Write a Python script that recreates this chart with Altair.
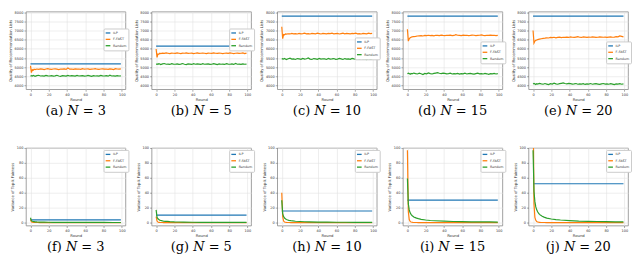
import altair as alt
import pandas as pd

METHODS = ["ILP", "F-FAST", "Random"]
COLORS = ["#1f77b4", "#ff7f0e", "#2ca02c"]

# ---------------- top row: Quality of Recommendation Lists ----------------
R_TOP = [0, 1, 2, 3, 4, 5, 7, 9, 11, 13, 15, 17, 19, 21, 23, 25, 27, 29, 31, 33,
         35, 37, 39, 41, 43, 45, 47, 49, 51, 53, 55, 57, 59, 61, 63, 65, 67, 69,
         71, 73, 75, 77, 79, 81, 83, 85, 87, 89, 91, 93, 95, 97, 99]
ILP_ROUNDS = [0, 99]

TOP_N = [3, 5, 10, 15, 20]
TOP_LABELS = ["(a)", "(b)", "(c)", "(d)", "(e)"]
TOP_ILP = [5180, 6150, 7780, 7780, 7780]

A_FF = [5080, 4700, 4860, 4830, 4890, 4870, 4900, 4880, 4910, 4890,
        4870, 4900, 4920, 4890, 4880, 4900, 4910, 4890, 4870, 4900,
        4890, 4910, 4880, 4960, 4890, 4900, 4880, 4910, 4890, 4900,
        4880, 4920, 4890, 4900, 4910, 4880, 4890, 4900, 4920, 4890,
        4880, 4900, 4910, 4890, 4900, 4880, 4910, 4890, 4870, 4920,
        4900, 4890, 4910]
A_RD = [4510, 4540, 4520, 4550, 4530, 4500, 4540, 4560, 4520, 4530,
        4510, 4550, 4530, 4520, 4540, 4510, 4530, 4560, 4520, 4500,
        4540, 4530, 4510, 4550, 4520, 4540, 4530, 4510, 4550, 4520,
        4530, 4540, 4510, 4520, 4550, 4530, 4500, 4540, 4520, 4530,
        4510, 4550, 4530, 4520, 4540, 4510, 4560, 4520, 4530, 4510,
        4540, 4520, 4530]
B_FF = [5990, 5530, 5720, 5700, 5760, 5740, 5770, 5750, 5780, 5760,
        5740, 5770, 5760, 5750, 5780, 5760, 5740, 5770, 5760, 5780,
        5750, 5760, 5770, 5740, 5760, 5780, 5750, 5760, 5770, 5760,
        5740, 5770, 5760, 5750, 5780, 5760, 5750, 5770, 5760, 5740,
        5760, 5770, 5750, 5780, 5760, 5740, 5760, 5770, 5750, 5760,
        5780, 5740, 5770]
B_RD = [5150, 5180, 5160, 5190, 5170, 5140, 5180, 5200, 5160, 5170,
        5150, 5190, 5170, 5160, 5180, 5150, 5170, 5200, 5160, 5140,
        5180, 5170, 5150, 5190, 5160, 5180, 5170, 5150, 5190, 5160,
        5170, 5180, 5150, 5160, 5190, 5170, 5140, 5180, 5160, 5170,
        5150, 5190, 5170, 5160, 5180, 5150, 5200, 5160, 5170, 5150,
        5180, 5160, 5170]
C_FF = [7200, 6550, 6780, 6760, 6810, 6800, 6820, 6810, 6840, 6820,
        6830, 6810, 6840, 6820, 6830, 6850, 6820, 6830, 6810, 6840,
        6830, 6820, 6850, 6830, 6810, 6840, 6830, 6820, 6840, 6830,
        6850, 6820, 6830, 6840, 6810, 6830, 6850, 6820, 6840, 6830,
        6820, 6840, 6830, 6850, 6820, 6830, 6810, 6840, 6830, 6820,
        6850, 6830, 6840]
C_RD = [5430, 5460, 5440, 5480, 5450, 5420, 5460, 5490, 5440, 5450,
        5420, 5470, 5450, 5430, 5480, 5440, 5460, 5500, 5440, 5420,
        5470, 5450, 5430, 5480, 5440, 5460, 5450, 5420, 5480, 5440,
        5450, 5470, 5430, 5440, 5480, 5450, 5420, 5470, 5440, 5450,
        5430, 5480, 5450, 5440, 5470, 5430, 5490, 5440, 5460, 5420,
        5470, 5430, 5450]
D_FF = [7070, 6420, 6550, 6600, 6630, 6650, 6670, 6680, 6700, 6710,
        6720, 6700, 6730, 6720, 6740, 6720, 6730, 6710, 6740, 6730,
        6720, 6750, 6730, 6720, 6740, 6730, 6750, 6720, 6730, 6770,
        6740, 6730, 6720, 6750, 6730, 6740, 6720, 6730, 6750, 6740,
        6720, 6730, 6740, 6760, 6730, 6720, 6740, 6730, 6750, 6730,
        6740, 6720, 6730]
D_RD = [4640, 4670, 4650, 4620, 4660, 4640, 4680, 4650, 4630, 4670,
        4640, 4600, 4660, 4640, 4690, 4650, 4630, 4660, 4680, 4700,
        4670, 4650, 4680, 4660, 4640, 4650, 4670, 4630, 4650, 4640,
        4660, 4620, 4650, 4640, 4670, 4630, 4650, 4660, 4640, 4620,
        4650, 4670, 4640, 4650, 4630, 4660, 4640, 4610, 4650, 4640,
        4660, 4630, 4650]
E_FF = [7000, 6320, 6420, 6460, 6480, 6500, 6530, 6550, 6570, 6580,
        6600, 6590, 6620, 6610, 6630, 6600, 6620, 6640, 6610, 6630,
        6620, 6640, 6620, 6650, 6630, 6620, 6640, 6660, 6630, 6620,
        6650, 6640, 6620, 6640, 6630, 6650, 6640, 6620, 6630, 6650,
        6640, 6630, 6640, 6620, 6640, 6650, 6630, 6640, 6660, 6650,
        6700, 6680, 6650]
E_RD = [4080, 4110, 4090, 4060, 4100, 4080, 4120, 4090, 4070, 4110,
        4080, 4050, 4100, 4080, 4130, 4090, 4070, 4100, 4120, 4140,
        4110, 4090, 4120, 4100, 4080, 4090, 4110, 4070, 4090, 4080,
        4100, 4060, 4090, 4080, 4110, 4070, 4090, 4100, 4080, 4060,
        4090, 4110, 4080, 4090, 4070, 4100, 4080, 4050, 4090, 4080,
        4100, 4070, 4090]
TOP_FF = [A_FF, B_FF, C_FF, D_FF, E_FF]
TOP_RD = [A_RD, B_RD, C_RD, D_RD, E_RD]
TOP_YTICKS = [4000, 4500, 5000, 5500, 6000, 6500, 7000, 7500, 8000]

# ---------------- bottom row: Variance of Top-k Fairness ----------------
R_BOT = [0, 1, 2, 3, 4, 5, 6, 7, 8, 10, 12, 15, 20, 25, 30, 40, 50, 60, 70, 80, 90, 99]
BOT_N = [3, 5, 10, 15, 20]
BOT_LABELS = ["(f)", "(g)", "(h)", "(i)", "(j)"]
BOT_ILP = [3.5, 10, 15.5, 30, 52]

F_FF = [4.5, 1.0, 0.4, 0.2, 0.1, 0.1, 0.05, 0.05, 0.05, 0.0, 0.0,
        0.0, 0.0, 0.0, 0.0, 0.0, 0.0, 0.0, 0.0, 0.0, 0.0, 0.0]
F_RD = [6.5, 2.5, 1.8, 1.4, 1.2, 1.0, 0.9, 0.8, 0.75, 0.7, 0.6,
        0.5, 0.4, 0.35, 0.3, 0.25, 0.2, 0.2, 0.15, 0.15, 0.1, 0.1]
G_FF = [8.0, 2.0, 0.7, 0.3, 0.15, 0.1, 0.05, 0.05, 0.0, 0.0, 0.0,
        0.0, 0.0, 0.0, 0.0, 0.0, 0.0, 0.0, 0.0, 0.0, 0.0, 0.0]
G_RD = [17.0, 7.0, 5.0, 4.0, 3.3, 2.8, 2.5, 2.2, 2.0, 1.7, 1.5,
        1.2, 0.9, 0.75, 0.6, 0.45, 0.35, 0.3, 0.25, 0.2, 0.2, 0.15]
H_FF = [40.0, 8.0, 2.0, 0.8, 0.4, 0.2, 0.1, 0.1, 0.05, 0.0, 0.0,
        0.0, 0.0, 0.0, 0.0, 0.0, 0.0, 0.0, 0.0, 0.0, 0.0, 0.0]
H_RD = [30.0, 12.0, 8.0, 6.0, 5.0, 4.2, 3.7, 3.3, 3.0, 2.5, 2.2,
        1.8, 1.4, 1.1, 0.9, 0.7, 0.55, 0.45, 0.4, 0.35, 0.3, 0.25]
I_FF = [97.0, 15.0, 4.0, 1.5, 0.7, 0.4, 0.2, 0.1, 0.1, 0.05, 0.0,
        0.0, 0.0, 0.0, 0.0, 0.0, 0.0, 0.0, 0.0, 0.0, 0.0, 0.0]
I_RD = [59.0, 25.0, 17.0, 13.0, 11.0, 9.5, 8.5, 7.5, 7.0, 6.0, 5.2,
        4.3, 3.4, 2.8, 2.4, 1.8, 1.4, 1.2, 1.0, 0.9, 0.8, 0.7]
J_FF = [160.0, 25.0, 7.0, 3.0, 1.5, 0.8, 0.5, 0.3, 0.2, 0.1, 0.05,
        0.0, 0.0, 0.0, 0.0, 0.0, 0.0, 0.0, 0.0, 0.0, 0.0, 0.0]
J_RD = [97.0, 42.0, 28.0, 21.0, 17.0, 14.5, 12.5, 11.0, 10.0, 8.5, 7.3,
        6.0, 4.8, 4.0, 3.4, 2.6, 2.0, 1.7, 1.4, 1.2, 1.0, 0.9]
BOT_FF = [F_FF, G_FF, H_FF, I_FF, J_FF]
BOT_RD = [F_RD, G_RD, H_RD, I_RD, J_RD]
BOT_YTICKS = [0, 20, 40, 60, 80, 100]

X_TICKS = [0, 20, 40, 60, 80, 100]

# legend positions (inside plot, px from plot origin)
TOP_LEG_Y = [17, 17, 26, 30, 30]
BOT_LEG_Y = [2, 2, 2, 2, 2]

W = 100
H = 78


def build_df(ilp, ff, rd, rounds):
    rows = []
    for r in ILP_ROUNDS:
        rows.append({"round": r, "value": ilp, "method": "ILP"})
    for r, v in zip(rounds, ff):
        rows.append({"round": r, "value": v, "method": "F-FAST"})
    for r, v in zip(rounds, rd):
        rows.append({"round": r, "value": v, "method": "Random"})
    return pd.DataFrame(rows)


def panel(df, ydomain, yticks, ytitle, caption, ly):
    return alt.Chart(df).mark_line(strokeWidth=1.2, clip=True).encode(
        x=alt.X("round:Q",
                scale=alt.Scale(domain=[-5, 104], nice=False, zero=False),
                axis=alt.Axis(values=X_TICKS, title="Round", format="d")),
        y=alt.Y("value:Q",
                scale=alt.Scale(domain=ydomain, nice=False, zero=False),
                axis=alt.Axis(values=yticks, title=ytitle, format="d")),
        color=alt.Color("method:N",
                        scale=alt.Scale(domain=METHODS, range=COLORS),
                        sort=METHODS,
                        legend=alt.Legend(orient="none", legendX=W - 22, legendY=ly,
                                          title=None)),
        order=alt.Order("round:Q"),
    ).properties(
        width=W, height=H,
        title=alt.TitleParams(caption, orient="bottom", anchor="middle",
                              font="DejaVu Serif", fontSize=13,
                              fontWeight="normal", color="black", offset=4),
    )


top_panels = []
for i in range(5):
    df = build_df(TOP_ILP[i], TOP_FF[i], TOP_RD[i], R_TOP)
    top_panels.append(panel(df, [3800, 8030], TOP_YTICKS,
                            "Quality of Recommendation Lists",
                            f"{TOP_LABELS[i]}  \U0001D441 = {TOP_N[i]}", TOP_LEG_Y[i]))

bot_panels = []
for i in range(5):
    df = build_df(BOT_ILP[i], BOT_FF[i], BOT_RD[i], R_BOT)
    bot_panels.append(panel(df, [-4, 100], BOT_YTICKS,
                            "Variance of Top-k Fairness",
                            f"{BOT_LABELS[i]}  \U0001D441 = {BOT_N[i]}", BOT_LEG_Y[i]))

row1 = alt.hconcat(*top_panels, spacing=26.25, bounds="flush").resolve_legend(color="independent")
row2 = alt.hconcat(*bot_panels, spacing=26.25, bounds="flush").resolve_legend(color="independent")

chart = alt.vconcat(row1, row2, spacing=26).resolve_legend(
    color="independent"
).properties(
    padding={"left": 0, "top": 1, "right": 0, "bottom": 0}
).configure_axis(
    labelFontSize=3.5, titleFontSize=3.8, labelColor="#333333", titleColor="#333333",
    tickSize=2, tickColor="#555555", tickWidth=0.5, labelPadding=1, titlePadding=1.5,
    gridColor="#e3e3e3", gridWidth=0.6, domain=False, titleFontWeight="normal",
    labelFont="DejaVu Sans", titleFont="DejaVu Sans",
).configure_view(
    stroke="#888888", strokeWidth=0.8,
).configure_legend(
    labelFontSize=3.3, labelFont="DejaVu Sans", labelColor="#333333",
    symbolType="stroke", symbolSize=22, symbolStrokeWidth=1.3,
    strokeColor="#cccccc", fillColor="white", padding=1.5, cornerRadius=1,
    rowPadding=0.4, labelOffset=2, labelLimit=40,
)

chart.save("out.html", embed_options={"renderer": "svg", "actions": False})
